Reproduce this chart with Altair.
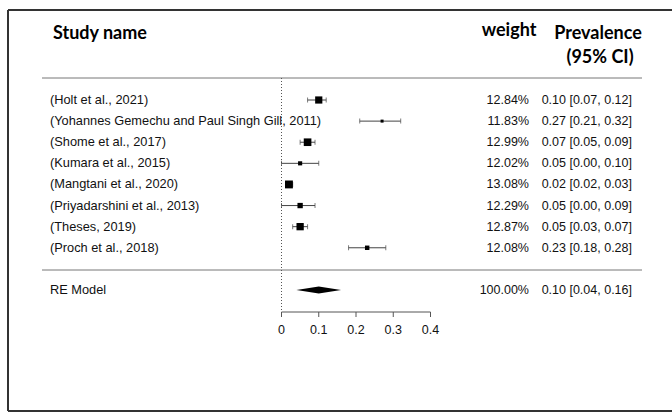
import altair as alt
import pandas as pd

# ---- data ----
studies = [
    "(Holt et al., 2021)",
    "(Yohannes Gemechu and Paul Singh Gill, 2011)",
    "(Shome et al., 2017)",
    "(Kumara et al., 2015)",
    "(Mangtani et al., 2020)",
    "(Priyadarshini et al., 2013)",
    "(Theses, 2019)",
    "(Proch et al., 2018)",
]
est = [0.10, 0.27, 0.07, 0.05, 0.02, 0.05, 0.05, 0.23]
lo = [0.07, 0.21, 0.05, 0.00, 0.02, 0.00, 0.03, 0.18]
hi = [0.12, 0.32, 0.09, 0.10, 0.03, 0.09, 0.07, 0.28]
weights = [12.84, 11.83, 12.99, 12.02, 13.08, 12.29, 12.87, 12.08]

re_label = "RE Model"
re_est, re_lo, re_hi, re_weight = 0.10, 0.04, 0.16, 100.00

x_ticks = [0, 0.1, 0.2, 0.3, 0.4]

header_left = ["Study name"]
header_right = ["weight", "Prevalence", "(95% CI)"]

# ---- tables ----
rows = list(range(len(studies)))
re_row = len(studies) + 1

df = pd.DataFrame({
    "row": rows,
    "study": studies,
    "est": est,
    "lo": lo,
    "hi": hi,
    "w": weights,
})
df["wtxt"] = [f"{w:.2f}%" for w in weights]
df["citxt"] = [f"{e:.2f} [{l:.2f}, {h:.2f}]" for e, l, h in zip(est, lo, hi)]

re_df = pd.DataFrame({
    "row": [re_row],
    "study": [re_label],
    "wtxt": [f"{re_weight:.2f}%"],
    "citxt": [f"{re_est:.2f} [{re_lo:.2f}, {re_hi:.2f}]"],
})

px_per_row = 190 / 9
half = 3.5 / px_per_row
diamond = pd.DataFrame({
    "x": [re_lo, re_est, re_hi],
    "ylo": [re_row, re_row - half, re_row],
    "yhi": [re_row, re_row + half, re_row],
})

ticks_df = pd.DataFrame({"t": x_ticks, "lab": [f"{t:g}" for t in x_ticks]})

xs = alt.Scale(domain=[0, 0.4], range=[281.5, 430.5])
ys = alt.Scale(domain=[0, 9], range=[100, 290])

FONT = "Liberation Sans"
HFONT = "Lato"
FS_LAB = 12.8
FS_NUM = 12.5
TXT = "#111111"

one = pd.DataFrame({"a": [0]})

frame_left = alt.Chart(one).mark_rule(color="#333333", strokeWidth=2).encode(
    x=alt.value(8), y=alt.value(10), y2=alt.value(411))
frame_top = alt.Chart(one).mark_rule(color="#333333", strokeWidth=2).encode(
    x=alt.value(8), x2=alt.value(672), y=alt.value(10))
frame_bottom = alt.Chart(one).mark_rule(color="#333333", strokeWidth=2).encode(
    x=alt.value(8), x2=alt.value(672), y=alt.value(411))

hdr_left = alt.Chart(pd.DataFrame({"txt": header_left})).mark_text(
    font=HFONT, fontWeight="bold", fontSize=18, color="black", baseline="middle", align="left"
).encode(x=alt.value(53), y=alt.value(34), text="txt:N")
hdr_right = alt.Chart(pd.DataFrame({"txt": header_right,
                                    "x": [509, 598, 600], "y": [31, 34, 58]})).mark_text(
    font=HFONT, fontWeight="bold", fontSize=18, color="black", baseline="middle", align="center"
).encode(x=alt.X("x:Q", scale=None), y=alt.Y("y:Q", scale=None), text="txt:N")

hline_top = alt.Chart(one).mark_rule(color="#777777", strokeWidth=1).encode(
    x=alt.value(42), x2=alt.value(642), y=alt.value(78))
hline_re = alt.Chart(one).mark_rule(color="#777777", strokeWidth=1).encode(
    x=alt.value(42), x2=alt.value(642), y=alt.value(270))

zero_line = alt.Chart(pd.DataFrame({"z": [0]})).mark_rule(
    color="#555555", strokeWidth=1, strokeDash=[1, 2]
).encode(x=alt.X("z:Q", scale=xs), y=alt.value(78), y2=alt.value(312))

base = alt.Chart(df)
labels = base.mark_text(font=FONT, fontSize=FS_LAB, align="left", baseline="middle", color=TXT).encode(
    x=alt.value(50), y=alt.Y("row:Q", scale=ys), text="study:N")
wtext = base.mark_text(font=FONT, fontSize=FS_NUM, align="right", baseline="middle", color=TXT).encode(
    x=alt.value(529), y=alt.Y("row:Q", scale=ys), text="wtxt:N")
citext = base.mark_text(font=FONT, fontSize=FS_NUM, align="right", baseline="middle", color=TXT).encode(
    x=alt.value(632), y=alt.Y("row:Q", scale=ys), text="citxt:N")

re_base = alt.Chart(re_df)
re_lab = re_base.mark_text(font=FONT, fontSize=FS_LAB, align="left", baseline="middle", color=TXT).encode(
    x=alt.value(50), y=alt.Y("row:Q", scale=ys), text="study:N")
re_w = re_base.mark_text(font=FONT, fontSize=FS_NUM, align="right", baseline="middle", color=TXT).encode(
    x=alt.value(529), y=alt.Y("row:Q", scale=ys), text="wtxt:N")
re_ci = re_base.mark_text(font=FONT, fontSize=FS_NUM, align="right", baseline="middle", color=TXT).encode(
    x=alt.value(632), y=alt.Y("row:Q", scale=ys), text="citxt:N")

ci = base.mark_rule(color="#444444", strokeWidth=1).encode(
    x=alt.X("lo:Q", scale=xs), x2="hi:Q", y=alt.Y("row:Q", scale=ys))
cap_lo = base.mark_tick(orient="vertical", size=5, thickness=1, color="#444444").encode(
    x=alt.X("lo:Q", scale=xs), y=alt.Y("row:Q", scale=ys))
cap_hi = base.mark_tick(orient="vertical", size=5, thickness=1, color="#444444").encode(
    x=alt.X("hi:Q", scale=xs), y=alt.Y("row:Q", scale=ys))
squares = base.mark_square(filled=True, color="black", opacity=1).encode(
    x=alt.X("est:Q", scale=xs), y=alt.Y("row:Q", scale=ys),
    size=alt.Size("w:Q", scale=alt.Scale(domain=[11.83, 13.08], range=[9, 62]), legend=None))

dia = alt.Chart(diamond).mark_area(color="black").encode(
    x=alt.X("x:Q", scale=xs), y=alt.Y("ylo:Q", scale=ys), y2="yhi:Q")

axis_line = alt.Chart(pd.DataFrame({"a": [x_ticks[0]], "b": [x_ticks[-1]]})).mark_rule(
    color="#555555", strokeWidth=1).encode(x=alt.X("a:Q", scale=xs), x2="b:Q", y=alt.value(312))
axis_ticks = alt.Chart(ticks_df).mark_rule(color="#555555", strokeWidth=1).encode(
    x=alt.X("t:Q", scale=xs), y=alt.value(312), y2=alt.value(317))
axis_labels = alt.Chart(ticks_df).mark_text(
    font=FONT, fontSize=FS_NUM, baseline="middle", align="center", color=TXT).encode(
    x=alt.X("t:Q", scale=xs), y=alt.value(330), text="lab:N")

chart = alt.layer(
    frame_left, frame_top, frame_bottom, hdr_left, hdr_right, hline_top, hline_re, zero_line,
    labels, wtext, citext, re_lab, re_w, re_ci,
    ci, cap_lo, cap_hi, squares, dia,
    axis_line, axis_ticks, axis_labels,
).properties(
    width=672, height=412, padding=0, autosize="none", background="white"
).configure_view(stroke=None).configure_axis(domain=False, ticks=False, labels=False, grid=False, title=None)

chart.save("out.html", embed_options={"renderer": "svg", "actions": False})
